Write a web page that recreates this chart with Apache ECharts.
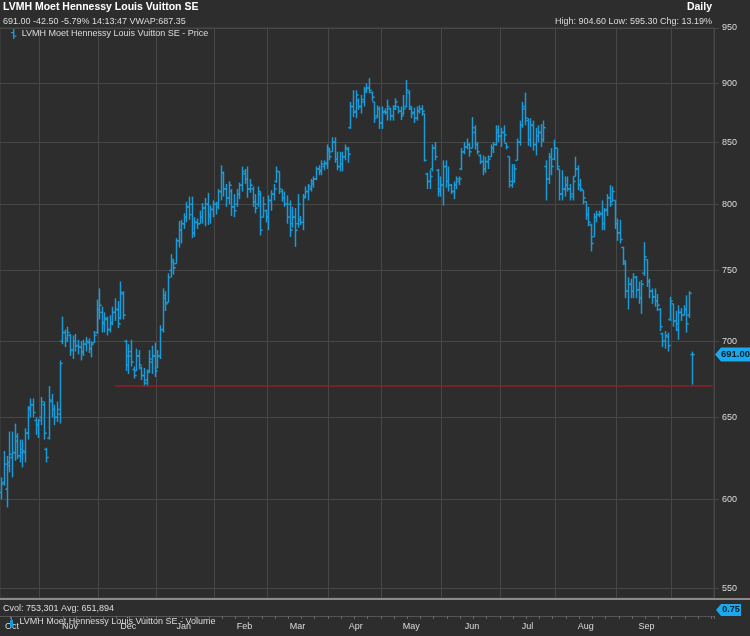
<!DOCTYPE html>
<html>
<head>
<meta charset="utf-8">
<script src="https://cdn.jsdelivr.net/npm/echarts@6/dist/echarts.min.js"></script>
<style>
html,body{margin:0;padding:0;background:#2d2d2d;}
#chart{width:750px;height:636px;}
</style>
</head>
<body>
<div id="chart"></div>
<script>
// ---------- data ----------
const firstDate = '2022-10-11';   // first weekday slot on the axis
const slotCount = 270;            // weekday slots shown on the axis (data + empty space on the right)
const monthNames = ['Jan','Feb','Mar','Apr','May','Jun','Jul','Aug','Sep','Oct','Nov','Dec'];

const open = [
  604,610,606,622,625,628,638,626,628,628,640,656,658,648,645,
  650,658,630,637,660,655,650,652,700,706,702,704,694,700,697,696,693,698,699,695,699,706,
  722,720,712,715,708,712,720,722,716,733,700,690,693,681,680,690,682,677,674,680,686,690,
  682,690,708,732,727,750,756,755,772,780,785,790,798,800,778,786,785,790,797,800,792,796,
  800,800,810,825,812,805,810,798,800,808,815,824,820,812,812,802,800,808,790,795,
  790,803,808,818,826,810,805,800,800,785,790,785,788,786,806,810,812,816,820,828,826,830,832,
  843,842,850,836,830,832,838,844,862,880,876,885,880,884,893,896,892,884,872,878,
  866,876,875,878,872,880,880,876,874,880,892,878,875,870,876,878,874,824,818,828,845,827,812,
  815,830,818,815,810,815,818,828,842,846,848,845,858,848,839,834,828,834,838,845,848,858,
  855,858,849,838,815,818,835,850,864,880,868,852,864,848,855,858,852,830,820,838,836,
  845,828,808,812,815,812,806,822,828,815,811,802,792,784,775,790,792,792,785,796,805,802,803,
  785,778,767,755,735,740,735,745,736,730,748,758,742,735,731,728,722,705,700,703,715,
  726,714,708,720,718,722,718,691
];
const high = [
  613,629,626,641,641,646,640,636,636,643,657,662,662,650,649,
  663,660,631,670,665,658,660,687,717,708,710,705,704,705,701,700,701,703,702,700,707,729,
  737,724,720,717,718,724,730,728,742,735,701,698,701,683,695,694,683,682,681,694,697,699,
  694,711,737,735,748,762,758,774,787,788,793,802,806,806,790,789,795,801,805,809,799,803,
  802,812,831,826,816,818,812,808,812,817,830,828,830,820,814,808,814,810,806,796,
  807,811,816,830,826,812,810,807,803,798,797,808,791,808,814,816,820,822,830,831,835,835,848,
  845,854,854,842,842,842,848,846,884,894,894,887,890,897,900,904.6,893,884,881,880,
  880,878.5,886,879,881,887,880,880,890,903,894,880,879,880,881,881,874,825,827,848,850,828,822,
  835,835,830,816,818,822,822,845,850,853,849,871,864,850,840,839,838,839,848,850,864,864,
  862,864,849,838,832,832,853,868,884,892,870,870,868,862,864,865,868,835,841,845,852,
  845,828,827,822,822,816,822,838,831,820,811,802,798,785,793,795,795,803,797,808,815,814,803,
  789,788,767.5,757,745,744,748,746,742,743,771,758,744,737,737,733,723,706,707,706,731,
  726,721,725,723,725,732,735,693
];
const low = [
  600,608,595.3,616,613,623,624,622,619,622,636,650,650,639,637,
  645,636,622,636,650,645,647,646,698,696,700,690,688,693,691,687,690,693,692,689,699,705,
  715,706,706,704,706,711,714,709,715,715,680,678,683,675,680,681,674,670,670,679,678,676,
  682,688,706,721,727,745,747,755,767,770,781,786,788,774,775,781,785,785,783,784,785,790,
  792,796,803,806,798,800,791,790,798,804,810,816,805,809,798,793,798,776,790,786,
  780,795,803,817,808,802,798,785,775,782,767.5,782,784,780,805,803,810,813,819,823,823,827,828,
  835,842,833,827,826,826,835,833,861,871,870,877,874,880,891.5,891.5,885,866,870,861,
  861,873,868,868,868,877,874,868.5,873,879,877,870,866,868,874,872,834,812,812,826,835,806,806,
  799,813,810,808,804,812,815,827,840,844,838,845,844,840,832,823,825,828,838,841,847,850,
  846,850,844,813,813,817,835,847,862,864,847,846,843,839,850,846,850,803,816,823,835,
  827,803,803,806,810,803,803,822,811,810,800,788,783,764,775,786,790,780,780,791,798,802,781,
  772,770,754,730,722,730,730,730,726,719,746,738,730,726,724,721,707,696,695,693,714,
  710,707,701,714,718,706,716,671
];
const close = [
  609,621,620,627,628,635,626,630,629,640,655,658,653,645,648,
  660,640,625,661,655,650,655,685,706,700,706,694,700,697,696,692,698,700,695,698,704,722,
  725,713,716,708,713,720,722,712,734,718,684,690,686,677,690,684,677,672,679,688,690,680,
  690,708,730,726,745,758,752,772,780,785,790,798,792,778,786,785,790,797,800,790,796,800,
  798,810,825,812,805,815,798,795,808,815,826,820,812,815,802,797,810,780,800,790,
  803,808,812,826,812,805,800,790,780,790,780,800,786,805,810,814,818,820,828,827,832,833,845,
  838,850,836,830,832,838,845,840,880,875,890,880,886,895,896,894,888,870,878,866,
  875,875,880,872,878,884,876,872,878,894,880,874,870,876,878,876,835,818,822,845,838,810,815,
  830,818,815,810,815,820,820,842,846,848,842,862,848,842,834,828,834,836,845,848,860,855,
  858,856,846,818,818,828,850,864,878,870,852,864,848,855,858,852,862,820,838,830,845,
  830,808,812,815,812,808,818,828,815,812,805,792,786,770,790,792,793,785,795,805,800,810,785,
  778,773,757,735,740,735,745,736,730,740,760,742,735,731,728,725,710,700,704,697,728,
  714,712,720,718,722,712,733.5,691
];

const priceTicks = [550,600,650,700,750,800,850,900,950];
const supportLevel = 670.5;
const supportStartSlot = 43;
const lastPrice = 691.00;
const volumeScaleTag = 0.75;

const titleText = 'LVMH Moet Hennessy Louis Vuitton SE';
const quoteText = '691.00 -42.50 -5.79% 14:13:47 VWAP:687.35';
const periodText = 'Daily';
const rangeText = 'High: 904.60 Low: 595.30 Chg: 13.19%';
const volumeStatsText = 'Cvol: 753,301 Avg: 651,894';
const priceSeriesName = 'LVMH Moet Hennessy Louis Vuitton SE - Price';
const volumeSeriesName = 'LVMH Moet Hennessy Louis Vuitton SE - Volume';

// ---------- axis categories (weekdays) ----------
const dates = [];
{
  const p = firstDate.split('-').map(Number);
  const d = new Date(Date.UTC(p[0], p[1] - 1, p[2]));
  while (dates.length < slotCount) {
    const wd = d.getUTCDay();
    if (wd !== 0 && wd !== 6) dates.push(new Date(d.getTime()));
    d.setUTCDate(d.getUTCDate() + 1);
  }
}
const categories = dates.map(d => d.toISOString().slice(0, 10));
const isMonthStart = i => i > 0 && dates[i].getUTCMonth() !== dates[i - 1].getUTCMonth();
const isMidMonth = i => i < open.length && dates[i].getUTCDate() >= 16 &&
  (i === 0 || dates[i - 1].getUTCDate() < 16 || dates[i - 1].getUTCMonth() !== dates[i].getUTCMonth());
const isMonday = i => dates[i].getUTCDay() === 1;

const ohlc = open.map((o, i) => [i, o, high[i], low[i], close[i]]);

// ---------- styles ----------
const FONT = '"Liberation Sans", Arial, sans-serif';
const BG = '#2d2d2d';
const GRID = '#474747';
const BAR = '#1a9bd8';
const TEXT = '#dcdcdc';

function renderOHLC(params, api) {
  const idx = api.value(0);
  const pO = api.coord([idx, api.value(1)]);
  const pH = api.coord([idx, api.value(2)]);
  const pL = api.coord([idx, api.value(3)]);
  const pC = api.coord([idx, api.value(4)]);
  const x = Math.round(pO[0]) + 0.5;
  const style = { stroke: BAR, lineWidth: 1.5 };
  return {
    type: 'group',
    children: [
      { type: 'line', shape: { x1: x, y1: pH[1], x2: x, y2: pL[1] }, style },
      { type: 'line', shape: { x1: x - 2.2, y1: pO[1], x2: x, y2: pO[1] }, style },
      { type: 'line', shape: { x1: x, y1: pC[1], x2: x + 2.2, y2: pC[1] }, style }
    ]
  };
}

const chart = echarts.init(document.getElementById('chart'), null, { renderer: 'canvas' });

chart.setOption({
  backgroundColor: BG,
  animation: false,
  textStyle: { fontFamily: FONT },
  grid: [
    { left: 0, right: 36, top: 28, bottom: 38, show: true, borderColor: GRID, borderWidth: 1, containLabel: false },
    { left: 0, right: 36, top: 604, height: 12, show: false, containLabel: false }
  ],
  legend: [
    {
      data: [{ name: priceSeriesName, icon: 'path://M2,0h1.4v10h-1.4z M0,3h2v1.2h-2z M3.4,6.5h2v1.2h-2z' }],
      left: 11, top: 29, padding: 0, itemWidth: 6, itemHeight: 10, itemGap: 0,
      textStyle: { color: TEXT, fontSize: 9, fontFamily: FONT }, selectedMode: false
    },
    {
      data: [{ name: volumeSeriesName, icon: 'path://M1,3h3v7h-3z M2,0h1v3h-1z' }],
      left: 10, top: 617, padding: 0, itemWidth: 6, itemHeight: 10, itemGap: 0,
      textStyle: { color: TEXT, fontSize: 9, fontFamily: FONT }, selectedMode: false
    }
  ],
  xAxis: [
    {
      type: 'category', gridIndex: 0, data: categories, boundaryGap: true,
      axisLine: { show: false }, axisTick: { show: false }, axisLabel: { show: false },
      splitLine: { show: true, interval: (i) => isMonthStart(i), lineStyle: { color: GRID, width: 1 } }
    },
    {
      type: 'category', gridIndex: 1, data: categories, boundaryGap: true,
      axisLine: { show: true, lineStyle: { color: '#555555', width: 1 } },
      axisTick: { show: true, interval: (i) => isMonday(i), length: 3, lineStyle: { color: '#666666' } },
      axisLabel: {
        interval: (i) => isMidMonth(i),
        formatter: (v) => monthNames[Number(v.slice(5, 7)) - 1],
        color: TEXT, fontSize: 9, margin: 6, fontFamily: FONT
      },
      splitLine: { show: false }
    }
  ],
  yAxis: [
    {
      type: 'log', gridIndex: 0, position: 'right', min: 545, max: 950, logBase: 10,
      axisLine: { show: true, lineStyle: { color: GRID } },
      axisTick: { show: true, length: 5, customValues: priceTicks, lineStyle: { color: GRID } },
      axisLabel: { customValues: priceTicks, color: TEXT, fontSize: 9, margin: 8, fontFamily: FONT },
      splitLine: { show: true, lineStyle: { color: GRID, width: 1 } }
    },
    { type: 'value', gridIndex: 1, min: 0, max: 1.5, show: false }
  ],
  series: [
    {
      name: priceSeriesName, type: 'custom', xAxisIndex: 0, yAxisIndex: 0,
      renderItem: renderOHLC, data: ohlc, itemStyle: { color: BAR },
      encode: { x: 0, y: [1, 2, 3, 4] }, clip: true,
      markLine: {
        silent: true, symbol: ['none', 'none'], label: { show: false },
        lineStyle: { color: '#8e2027', width: 1.5, type: 'solid' },
        data: [[{ coord: [categories[supportStartSlot], supportLevel] }, { coord: [categories[slotCount - 1], supportLevel] }]]
      }
    },
    {
      name: volumeSeriesName, type: 'bar', xAxisIndex: 1, yAxisIndex: 1,
      data: [], itemStyle: { color: BAR }
    }
  ]
});

// annotations positioned through the axes' scales
const tagY = chart.convertToPixel({ yAxisIndex: 0 }, lastPrice);
const volY = chart.convertToPixel({ yAxisIndex: 1 }, volumeScaleTag);

chart.setOption({
  graphic: [
    { type: 'text', left: 3, top: 2, style: { text: titleText, fill: '#ffffff', font: 'bold 10.5px ' + FONT } },
    { type: 'text', left: 3, top: 17, style: { text: quoteText, fill: TEXT, font: '9px ' + FONT } },
    { type: 'text', right: 38, top: 2, style: { text: periodText, fill: '#ffffff', font: 'bold 10.5px ' + FONT } },
    { type: 'text', right: 38, top: 17, style: { text: rangeText, fill: TEXT, font: '9px ' + FONT } },
    { type: 'text', left: 3, top: 604, style: { text: volumeStatsText, fill: TEXT, font: '9px ' + FONT } },
    { type: 'line', shape: { x1: 0, y1: 599, x2: 750, y2: 599 }, style: { stroke: '#8a8a8a', lineWidth: 2 }, z: 100 },
    {
      type: 'polygon', z: 100,
      shape: { points: [[715, tagY], [721, tagY - 7], [750, tagY - 7], [750, tagY + 7], [721, tagY + 7]] },
      style: { fill: '#1aa9ec' }
    },
    {
      type: 'text', z: 101, x: 735.5, y: tagY,
      style: { text: lastPrice.toFixed(2), fill: '#06202f', font: 'bold 9.5px ' + FONT, align: 'center', verticalAlign: 'middle' }
    },
    {
      type: 'polygon', z: 100,
      shape: { points: [[716, volY], [721, volY - 6], [741, volY - 6], [741, volY + 6], [721, volY + 6]] },
      style: { fill: '#1aa9ec' }
    },
    {
      type: 'text', z: 101, x: 731, y: volY,
      style: { text: volumeScaleTag.toFixed(2), fill: '#06202f', font: 'bold 9px ' + FONT, align: 'center', verticalAlign: 'middle' }
    }
  ]
});
</script>
</body>
</html>
